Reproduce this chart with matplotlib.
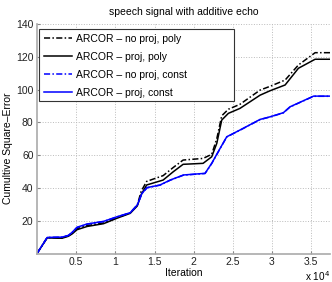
import matplotlib
matplotlib.use("Agg")
import matplotlib.pyplot as plt
import numpy as np
from matplotlib.ticker import FuncFormatter
from matplotlib.patches import Rectangle

plt.rcParams['font.family'] = ['Liberation Sans', 'DejaVu Sans']

# data (iteration, cumulative square error)
x_blue = [0, 1300, 3200, 4000, 4500, 5100, 6400, 8500, 10200, 11900, 12800, 13400, 14050,
          15700, 17000, 18700, 21450, 22300, 23370, 24220, 25900, 28480, 29760, 31450,
          32300, 35300, 37400]
y_proj_const = [0, 9.8, 10, 11, 13, 16, 18, 19.6, 22.4, 24.9, 29.6, 36.7, 40.2,
                41.8, 44.8, 47.9, 48.9, 55, 64.1, 71.2, 75.3, 81.8, 83.4, 85.9,
                89.5, 96, 96]
y_noproj_const = [0, 9.7, 10, 11, 12.8, 15.8, 17.9, 19.5, 22.3, 24.8, 29.5, 36.6, 40.1,
                  41.7, 44.7, 47.8, 48.8, 54.9, 64.0, 71.1, 75.2, 81.7, 83.3, 85.8,
                  89.4, 95.9, 95.9]

x_black = [0, 1300, 3200, 4000, 4500, 5100, 6400, 8500, 10200, 11900, 12800, 13300, 14000,
           16100, 17400, 18650, 21200, 22300, 22950, 23580, 24430, 25900, 28480, 29760,
           31670, 33370, 35500, 37400]
y_proj_poly = [0, 9.5, 9.3, 10.5, 12, 14.5, 16.5, 18.2, 21.5, 24.5, 29, 36, 41.8,
               44.8, 49.9, 54.4, 55, 59, 67.2, 81.4, 85.5, 88.5, 96.6, 99.3,
               102.8, 113, 118.5, 118.5]
y_noproj_poly = [0, 9.7, 9.6, 10.8, 12.5, 15.2, 17.0, 18.6, 21.8, 24.8, 29.5, 38, 44,
                 47.5, 52.5, 57, 58, 60.5, 70, 84, 88, 91, 99.7, 102,
                 105.8, 115, 122.5, 122.5]

labels = ['ARCOR – no proj, poly', 'ARCOR – proj, poly',
          'ARCOR – no proj, const', 'ARCOR – proj, const']

FS = 7.5
fig = plt.figure(figsize=(3.32, 2.82), dpi=100)
W, H = 332, 282
L, R, T, B = 37, 330, 24, 253.5
AW, AH = R - L, B - T
ax = fig.add_axes([L / W, (H - B) / H, AW / W, AH / H])

ax.plot(x_black, y_noproj_poly, color='black', ls=(0, (4, 1.5, 1, 1.5)), lw=1.1, label=labels[0])
ax.plot(x_black, y_proj_poly, color='black', ls='-', lw=1.1, label=labels[1])
ax.plot(x_blue, y_noproj_const, color='#0000ff', ls=(0, (4, 1.5, 1, 1.5)), lw=1.1, label=labels[2])
ax.plot(x_blue, y_proj_const, color='#0000ff', ls='-', lw=1.1, label=labels[3])

ax.set_xlim(0, 37400)
ax.set_ylim(0, 140)
ax.set_xticks([5000, 10000, 15000, 20000, 25000, 30000, 35000])
ax.xaxis.set_major_formatter(FuncFormatter(lambda v, p: f'{v/1e4:g}'))
ax.set_yticks([20, 40, 60, 80, 100, 120, 140])
ax.tick_params(direction='in', length=2, labelsize=FS, colors='#222222', pad=2.5)
ax.tick_params(axis='both', color='#888888')
for s in ['top', 'right']:
    ax.spines[s].set_visible(False)
for s in ['left', 'bottom']:
    ax.spines[s].set_color('#aaaaaa')
    ax.spines[s].set_linewidth(1.2)
ax.grid(True, ls=':', color='#bbbbbb', lw=0.7)

ax.set_title('speech signal with additive echo', fontsize=FS, pad=6.5)
ax.set_xlabel('Iteration', fontsize=FS, labelpad=0.5)
ax.set_ylabel('Cumultive Square–Error', fontsize=FS)
ax.yaxis.set_label_coords((13.5 - L) / AW, 0.46)
ax.text(1.0, -(276 - B) / AH, r'x 10$^{4}$', transform=ax.transAxes, ha='right', va='center',
        fontsize=FS - 0.3)

x0 = (39 - L) / AW
x1 = (234 - L) / AW
ytop = 1 - (29 - T) / AH
ybot = 1 - (101 - T) / AH
frame = Rectangle((x0, ybot), x1 - x0, ytop - ybot, transform=ax.transAxes,
                  facecolor='white', edgecolor='#333333', lw=0.8, zorder=4)
ax.add_patch(frame)
leg = ax.legend(loc='upper left', bbox_to_anchor=(x0, ytop),
                borderaxespad=0, fontsize=FS, frameon=False,
                handlelength=2.7, labelspacing=0.78,
                handletextpad=0.4, borderpad=0.45)
leg.set_zorder(5)

fig.savefig('out.png', dpi=100)
